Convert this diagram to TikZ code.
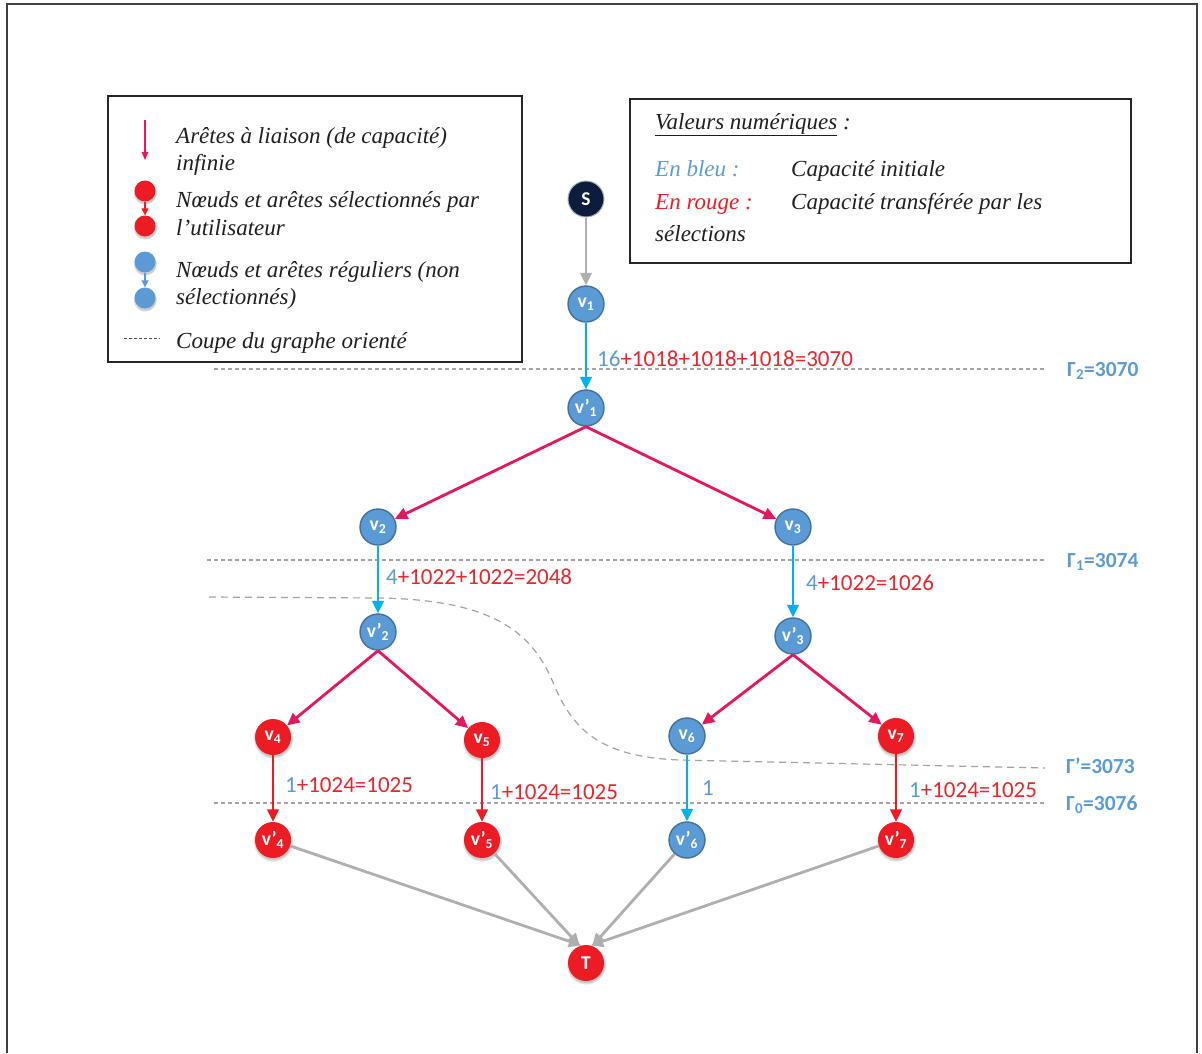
\documentclass[tikz,border=0pt]{standalone}
\usepackage{fontspec}
\setmainfont{Liberation Serif}
\newfontfamily\calib{Carlito}
\usetikzlibrary{arrows.meta,shadows}

\definecolor{nodeblue}{HTML}{5B9BD5}
\definecolor{nodeblueedge}{HTML}{41719C}
\definecolor{selred}{HTML}{ED1C24}
\definecolor{infpink}{HTML}{E5175F}
\definecolor{capcyan}{HTML}{00B0F0}
\definecolor{linkgray}{HTML}{AFAFAF}
\definecolor{cutgray}{HTML}{A3A3A3}
\definecolor{srcnavy}{HTML}{0C1C3C}
\definecolor{txtred}{HTML}{E8262C}
\definecolor{txtblue}{HTML}{5B9BD5}

\tikzset{
  vtx/.style={circle, minimum size=36pt, inner sep=0pt,
    font=\calib\bfseries\fontsize{19.5}{19.5}\selectfont, text=white},
  bluev/.style={vtx, fill=nodeblue, draw=nodeblueedge, line width=1.4pt},
  redv/.style={vtx, fill=selred,
    circular drop shadow={shadow xshift=0pt, shadow yshift=-1.5pt, shadow scale=1.12, opacity=0.45}},
  srcv/.style={vtx, fill=srcnavy, draw=white!65!srcnavy, line width=1pt},
  tip/.style={-{Triangle[length=12.5pt,width=11.5pt]}},
  capedge/.style={tip, line width=2.8pt, draw=capcyan},
  infedge/.style={tip, line width=2.8pt, draw=infpink},
  seledge/.style={tip, line width=2.8pt, draw=selred},
  linkedge/.style={tip, line width=2.8pt, draw=linkgray},
  cutline/.style={draw=cutgray, line width=1.2pt, dash pattern=on 4pt off 3pt},
  cutcurve/.style={draw=cutgray, line width=1.2pt, dash pattern=on 7pt off 5pt},
  legtxt/.style={anchor=base west, inner sep=0pt,
    font=\itshape\fontsize{23}{27}\selectfont, text=black!88},
  numlabel/.style={anchor=base west, inner sep=0pt,
    font=\calib\fontsize{23}{27}\selectfont, text=txtred},
  cutlabel/.style={anchor=base west, inner sep=0pt,
    font=\calib\bfseries\fontsize{21.5}{25}\selectfont, text=txtblue},
  legdot/.style={circle, minimum size=21pt, inner sep=0pt},
  framebox/.style={draw=black!85, line width=1.4pt}
}

\begin{document}
\begin{tikzpicture}[x=1pt, y=-1pt]
\useasboundingbox (0,0) rectangle (1202,1053);

% page frame
\draw[draw=black!75, line width=1.3pt] (7,1053) -- (7,4) -- (1197,4) -- (1197,1053);

% ---------- legend ----------
\draw[framebox] (108,96) rectangle (522,362);
\coordinate (la) at (145,120);
\coordinate (lb) at (145,160);
\draw[draw=infpink, line width=1.3pt, -{Triangle[length=8pt,width=6.5pt]}] (la) -- (lb);
\node[legtxt] (l1a) at (176,143) {Arêtes à liaison (de capacité)};
\node[legtxt] (l1b) at (176,170) {infinie};

\node[legdot, fill=selred, circular drop shadow={shadow xshift=0pt, shadow yshift=-1.5pt, shadow scale=1.15, opacity=0.4}] (lr1) at (145,191) {};
\node[legdot, fill=selred, circular drop shadow={shadow xshift=0pt, shadow yshift=-1.5pt, shadow scale=1.15, opacity=0.4}] (lr2) at (145,226) {};
\draw[draw=selred, line width=1.3pt, -{Triangle[length=7pt,width=7pt]}] (lr1) -- (lr2);
\node[legtxt] (l2a) at (176,207) {Nœuds et arêtes sélectionnés par};
\node[legtxt] (l2b) at (176,235) {l’utilisateur};

\node[legdot, fill=nodeblue, circular drop shadow={shadow xshift=0pt, shadow yshift=-1.5pt, shadow scale=1.15, opacity=0.4}] (lb1) at (145,262) {};
\node[legdot, fill=nodeblue, circular drop shadow={shadow xshift=0pt, shadow yshift=-1.5pt, shadow scale=1.15, opacity=0.4}] (lb2) at (145,298) {};
\draw[draw=nodeblue, line width=1.3pt, -{Triangle[length=7pt,width=7pt]}] (lb1) -- (lb2);
\node[legtxt] (l3a) at (176,277) {Nœuds et arêtes réguliers (non};
\node[legtxt] (l3b) at (176,304) {sélectionnés)};

\draw[draw=black!70, line width=0.9pt, dash pattern=on 3pt off 2pt] (124,338) -- (160,338);
\node[legtxt] (l4) at (176,348) {Coupe du graphe orienté};

% ---------- numeric values box ----------
\draw[framebox] (630,99) rectangle (1131,263);
\node[legtxt] (vt) at (655,129) {\underline{Valeurs numériques} :};
\node[legtxt, text=txtblue] (vb) at (655,176) {En bleu :};
\node[legtxt] (vbt) at (791,176) {Capacité initiale};
\node[legtxt, text=selred] (vr) at (655,209) {En rouge :};
\node[legtxt] (vrt) at (791,209) {Capacité transférée par les};
\node[legtxt] (vrt2) at (655,241) {sélections};

% ---------- cuts ----------
\draw[cutline] (214,369) -- (1045,369);
\draw[cutline] (207,560) -- (1045,560);
\draw[cutline] (214,803) -- (1045,803);
\draw[cutcurve] (209,597) -- (380,598) .. controls (490,600) and (530,630) .. (552,680)
  .. controls (572,730) and (600,757) .. (680,760) -- (1045,768);

\node[cutlabel] (g2) at (1067,376) {Γ\textsubscript{2}=3070};
\node[cutlabel] (g1) at (1067,567) {Γ\textsubscript{1}=3074};
\node[cutlabel] (gp) at (1066,773) {Γ’=3073};
\node[cutlabel] (g0) at (1066,810) {Γ\textsubscript{0}=3076};

% ---------- vertices ----------
\node[srcv] (S) at (586,199) {S};
\node[bluev] (v1) at (586,304) {v\textsubscript{1}};
\node[bluev] (vp1) at (586,408) {v’\textsubscript{1}};
\node[bluev] (v2) at (378,527) {v\textsubscript{2}};
\node[bluev] (v3) at (793,527) {v\textsubscript{3}};
\node[bluev] (vp2) at (378,632) {v’\textsubscript{2}};
\node[bluev] (vp3) at (793,636) {v’\textsubscript{3}};
\node[redv] (v4) at (273,737) {v\textsubscript{4}};
\node[redv] (v5) at (482,740) {v\textsubscript{5}};
\node[bluev] (v6) at (687,736) {v\textsubscript{6}};
\node[redv] (v7) at (896,736) {v\textsubscript{7}};
\node[redv] (vp4) at (273,840) {v’\textsubscript{4}};
\node[redv] (vp5) at (482,840) {v’\textsubscript{5}};
\node[bluev] (vp6) at (687,840) {v’\textsubscript{6}};
\node[redv] (vp7) at (896,840) {v’\textsubscript{7}};
\node[redv] (T) at (586,963) {T};

% ---------- edges ----------
\draw[linkedge] (S) -- (v1);
\draw[capedge] (v1) -- (vp1);
\draw[infedge] (vp1.south) -- (v2);
\draw[infedge] (vp1.south) -- (v3);
\draw[capedge] (v2) -- (vp2);
\draw[capedge] (v3) -- (vp3);
\draw[infedge] (vp2.south) -- (v4);
\draw[infedge] (vp2.south) -- (v5);
\draw[infedge] (vp3.south) -- (v6);
\draw[infedge] (vp3.south) -- (v7);
\draw[seledge] (v4) -- (vp4);
\draw[seledge] (v5) -- (vp5);
\draw[capedge] (v6) -- (vp6);
\draw[seledge] (v7) -- (vp7);
\draw[linkedge] (vp4) -- (T.105);
\draw[linkedge] (vp5) -- (T.110);
\draw[linkedge] (vp6) -- (T.70);
\draw[linkedge] (vp7) -- (T.75);

% ---------- capacity labels ----------
\node[numlabel] (c1) at (597,366) {\textcolor{txtblue}{16}+1018+1018+1018=3070};
\node[numlabel] (c2) at (386,584) {\textcolor{txtblue}{4}+1022+1022=2048};
\node[numlabel] (c3) at (806,590) {\textcolor{txtblue}{4}+1022=1026};
\node[numlabel] (c4) at (285,792) {\textcolor{txtblue}{1}+1024=1025};
\node[numlabel] (c5) at (490,799) {\textcolor{txtblue}{1}+1024=1025};
\node[numlabel, text=txtblue] (c6) at (702,795) {1};
\node[numlabel] (c7) at (909,797) {\textcolor{txtblue}{1}+1024=1025};
\end{tikzpicture}
\end{document}
